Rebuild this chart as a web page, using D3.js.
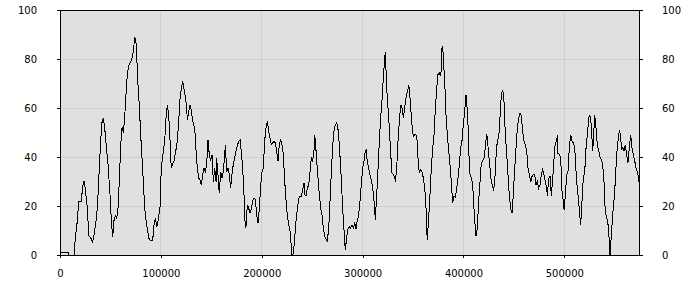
<!DOCTYPE html>
<html>
<head>
<meta charset="utf-8">
<title>Level trace</title>
<style>
  body { margin: 0; background: #fff; }
  svg { display: block; font-family: 'DejaVu Sans', sans-serif; }
  .grid line { stroke: #cfcfcf; stroke-width: 1; }
  .axis text { font-size: 10px; fill: #000; }
  .axis line { stroke: #000; }
  .trace { fill: none; stroke: #000; stroke-width: 1; }
</style>
</head>
<body>
<svg id="chart" width="700" height="300"></svg>

<script src="https://cdn.jsdelivr.net/npm/d3@7/dist/d3.min.js"></script>
<script>
  const xTicks = [0, 100000, 200000, 300000, 400000, 500000];
  const yTicks = [0, 20, 40, 60, 80, 100];
  const xMax = 575000;

  // [position (thousands), value]
  const trace = [
    [0, 1.1], [7.9, 1.1], [8.6, 0], [13.9, 0], [15.2, 7], [17.2, 14], [18.5, 22], [21.1, 22],
    [22.5, 28], [23.8, 30], [25.1, 27], [27.1, 19], [28.5, 8], [30.4, 7], [32.4, 5.3], [33.7, 8],
    [35.7, 14], [37, 19], [39, 35.5], [40.3, 46.5], [41.6, 54], [42.9, 56], [44.3, 52], [46.3, 42.5],
    [47.6, 37], [49.6, 24.6], [50.9, 14], [52.2, 7.3], [53.5, 14], [54.8, 16], [56.2, 15], [57.5, 19],
    [58.8, 30], [60.2, 45], [61.5, 52], [62.8, 50], [64.1, 56], [65.4, 65.4], [66.7, 73.6], [68.1, 77.4],
    [70.1, 79], [71.4, 80.4], [72.7, 83], [74.1, 89], [75.3, 87], [76, 81.8], [77.3, 69.5], [78.6, 61.3],
    [80, 49], [81.3, 39.6], [82.6, 30], [84, 19], [85.3, 14], [86.5, 11], [87.9, 7], [89.2, 6],
    [91.9, 6], [93.2, 12.4], [94.5, 15], [95.9, 11.5], [97.2, 14], [99.1, 19], [100.4, 35.5], [102.4, 42],
    [103.8, 46.5], [105.1, 56], [106.4, 61], [107.8, 57], [109.1, 46.5], [110.3, 35.5], [111.7, 37], [113, 38.4],
    [115, 43], [116.3, 46.5], [117.7, 54.6], [119, 64], [120.3, 68], [121.6, 71], [122.9, 68], [124.2, 64.8],
    [125.6, 60], [126.2, 55], [127.6, 58.6], [128.9, 61.3], [130.2, 59], [131.6, 54.6], [132.8, 53], [134.1, 49],
    [134.8, 43], [136.1, 35.5], [137.5, 31.4], [138.8, 30.5], [140.1, 28.7], [141.5, 32.8], [142.8, 35.5], [144, 34],
    [145.4, 37], [146.7, 47], [148, 41], [149.4, 38.4], [150.7, 41], [152, 30], [153.4, 35.5], [154.7, 30],
    [155.3, 39.6], [156.6, 32.8], [157.9, 25.3], [159.3, 34], [160.6, 31.4], [161.9, 34], [163.3, 41], [163.9, 45],
    [165.3, 34], [166.6, 35.5], [167.8, 32.8], [169.2, 27.3], [170.5, 32.8], [171.8, 37], [173.2, 39.6], [175.2, 43.7],
    [177.2, 46.5], [178.5, 47], [179.7, 42.5], [181.1, 35.5], [182.4, 24.6], [183.7, 11], [184.4, 11.6], [185.7, 20.5],
    [187.1, 19], [188.4, 17], [189.7, 19], [191, 22], [192.3, 23.3], [193.6, 22.8], [195, 16.4], [196.3, 13],
    [197.6, 19], [199, 28.7], [200.3, 34], [201.6, 35.5], [202.9, 46.5], [204.2, 51.8], [205.5, 54.6], [206.9, 50.6],
    [208.2, 47.8], [209.5, 45], [210.9, 45.7], [212.2, 46.5], [213.5, 45.7], [214.8, 42.5], [216.1, 38.4], [217.4, 45],
    [218.8, 47], [220.1, 45], [221.4, 41], [222.8, 30], [224.1, 22], [225.3, 16.4], [226.7, 12.4], [228, 9.8],
    [230, 0], [231.3, 0.7], [232.7, 7], [234, 14], [235.3, 19], [236.6, 22.8], [237.9, 24], [239.2, 24],
    [240.6, 26.7], [241.9, 29.5], [242.6, 24.6], [243.9, 24], [245.2, 27.3], [246.6, 28.7], [247.9, 34], [249.1, 39.6],
    [250.5, 38.4], [251.8, 42.5], [252.5, 49], [253.1, 47], [254.5, 38.4], [255.8, 31.4], [257.1, 24.6], [258.5, 19],
    [259.7, 16.4], [261, 11], [262.4, 7.6], [263.7, 6.4], [265, 5.7], [266.4, 11], [267.7, 22], [269, 34],
    [270.4, 45], [271.6, 50.6], [272.9, 53], [274.3, 54], [275.6, 51.3], [276.9, 45], [278.3, 35.5], [279.6, 24.6],
    [280.9, 14], [282.3, 5.7], [282.8, 2], [284.2, 7], [285.5, 10.7], [286.8, 11.6], [288.2, 11], [289.5, 12.4],
    [290.8, 11], [292.2, 13], [293.5, 10.7], [294.7, 14], [296.1, 16.4], [297.4, 22], [298.7, 28.7], [300.1, 35.5],
    [301.4, 38.4], [302.7, 42.5], [303.4, 43], [304.7, 37.7], [306, 35.5], [307.3, 32.8], [308.6, 30.5], [310, 27.3],
    [311.3, 22], [312.6, 14.4], [314, 24.6], [315.3, 35.5], [316.6, 46.5], [317.9, 56], [319.2, 63], [320.5, 72],
    [321.9, 80.4], [322.5, 83], [323.9, 68], [325.2, 60], [326.5, 51.8], [327.9, 41], [329.1, 33.5], [330.4, 32.8],
    [331.8, 32], [332.4, 30], [333.8, 35.5], [335.1, 46.5], [336.4, 54.6], [337.8, 61.3], [339.1, 60], [340.4, 56],
    [341.7, 60], [343, 64], [344.3, 66.8], [345.7, 68.8], [346.3, 68], [347.7, 60], [349, 53], [350.3, 48.4],
    [351.6, 49], [352.9, 49], [354.2, 46.5], [354.9, 39.6], [356.2, 33.5], [357.6, 34.8], [358.9, 34], [360.2, 31.4],
    [361.6, 27.3], [362.9, 19], [363.5, 11], [364.1, 6.3], [365.5, 15], [366.8, 24.6], [368.1, 35.5], [369.5, 43.7],
    [370.8, 49], [372.1, 60], [373.5, 68], [374.7, 73.6], [376, 74.3], [377.4, 73], [378, 76.3], [378.7, 84.5],
    [379.4, 85.3], [380, 80.4], [381.4, 71], [382.7, 57], [384, 49], [385.4, 42.5], [386.6, 37], [387.9, 30],
    [389.3, 21.2], [390.6, 24], [391.9, 23.6], [393.3, 27.3], [394.6, 31.4], [395.9, 37], [397.2, 43.7], [398.5, 46.5],
    [399.8, 53], [401.2, 58.6], [402.5, 65.2], [403.2, 62.6], [404.5, 53], [405.2, 42.5], [406.5, 32.8], [407.8, 31.4],
    [409.1, 28.7], [410.4, 19], [411.7, 11], [412.4, 7.6], [413.7, 11], [415.1, 22], [416.4, 30], [417.7, 37.7],
    [419.1, 38.4], [420.4, 39.6], [421.6, 43.7], [423, 49.5], [423.6, 47.8], [425, 41], [426.3, 35.5], [427.6, 29.5],
    [429, 28.7], [429.6, 26], [431, 30], [432.2, 39.6], [433.5, 46.5], [434.9, 47.8], [436.2, 56], [437.5, 65.4],
    [438.9, 67.5], [440.2, 62.6], [441.5, 49], [442.9, 41], [444.1, 32.8], [445.4, 24.6], [446.8, 19], [448.1, 17],
    [449.4, 24.6], [450.8, 35.5], [452.1, 43.7], [453.4, 51.8], [454.8, 56], [456, 58], [457.3, 57], [458.7, 50.6],
    [460, 46.5], [461.3, 45], [462.7, 42.5], [464, 35.5], [465.3, 32.8], [466.7, 30], [467.9, 32], [469.2, 32.8],
    [470.6, 32.8], [471.9, 28.7], [473.2, 30], [474.6, 27.3], [475.9, 28.7], [477.2, 32.8], [478.5, 34.8], [479.8, 32.8],
    [481.1, 30], [482.5, 27.3], [483.1, 24], [484.5, 31.4], [485.8, 32], [487.1, 24], [488.5, 31.4], [489.8, 39.6],
    [491, 45.7], [492.4, 46.5], [493, 49], [493.7, 41.5], [495, 41], [496.4, 39.6], [497.7, 26], [499, 22],
    [499.7, 18.5], [501, 24.6], [502.3, 32.8], [503.6, 34], [504.9, 43.7], [506.3, 49], [507.6, 46.5], [508.9, 45.7],
    [510.3, 43.7], [511.6, 34], [512.8, 27.3], [514.2, 22], [515.5, 15], [516.2, 12.4], [517.5, 22], [518.8, 31.4],
    [520.2, 34], [521.5, 43.7], [522.8, 49], [524.2, 56], [525.4, 57], [526.7, 53], [528.1, 42.5], [528.7, 46.5],
    [530.1, 57], [531.4, 51.8], [532.7, 45], [534.1, 42.5], [535.4, 40], [536.6, 38.8], [538, 37], [539.3, 30],
    [540.6, 17], [542, 15.6], [543.3, 12.4], [544.6, 5.7], [545.3, 0], [546.6, 8.2], [547.9, 16.4], [549.2, 22],
    [550.5, 30], [551.9, 41], [553.2, 46.5], [554.5, 50.8], [555.9, 49], [556.5, 43], [557.9, 43.7], [559.1, 42.5],
    [560.4, 45], [561.8, 41], [563.1, 37.7], [564.4, 43.7], [565.8, 49], [567.1, 43.7], [568.4, 41], [569.8, 38.4],
    [571, 35.5], [572.3, 34], [573.7, 31.4], [574.3, 28.7]
  ];

  const svg = d3.select("#chart");
  const margin = { top: 10, right: 60, bottom: 45, left: 60 };
  const width = 700 - margin.left - margin.right;
  const height = 300 - margin.top - margin.bottom;

  const x = d3.scaleLinear().domain([0, xMax]).range([0, width]);
  const y = d3.scaleLinear().domain([0, 100]).range([height, 0]);

  const g = svg.append("g").attr("transform", `translate(${margin.left},${margin.top})`);

  g.append("rect")
    .attr("width", width)
    .attr("height", height)
    .attr("fill", "#e0e0e0");

  // grid
  const grid = g.append("g").attr("class", "grid").attr("shape-rendering", "crispEdges");
  grid.selectAll(".gx")
    .data(xTicks.filter(t => t > 0))
    .join("line")
    .attr("x1", d => x(d)).attr("x2", d => x(d))
    .attr("y1", 0).attr("y2", height);
  grid.selectAll(".gy")
    .data(yTicks.filter(t => t > 0 && t < 100))
    .join("line")
    .attr("x1", 0).attr("x2", width)
    .attr("y1", d => y(d)).attr("y2", d => y(d));

  // series
  const line = d3.line()
    .x(d => x(d[0] * 1000))
    .y(d => y(d[1]));

  g.append("path")
    .datum(trace)
    .attr("class", "trace")
    .attr("shape-rendering", "crispEdges")
    .attr("d", line);

  // axes
  const fmt = d3.format("d");
  const axisBottom = g.append("g")
    .attr("class", "axis")
    .attr("transform", `translate(0,${height})`)
    .call(d3.axisBottom(x).tickValues(xTicks).tickFormat(fmt).tickSize(3).tickSizeOuter(0).tickPadding(12));

  const axisLeft = g.append("g")
    .attr("class", "axis")
    .call(d3.axisLeft(y).tickValues(yTicks).tickSize(3).tickSizeOuter(0).tickPadding(20));

  const axisRight = g.append("g")
    .attr("class", "axis")
    .attr("transform", `translate(${width},0)`)
    .call(d3.axisRight(y).tickValues(yTicks).tickSize(3).tickSizeOuter(0).tickPadding(19));

  [axisBottom, axisLeft, axisRight].forEach(a => {
    a.select(".domain").remove();
    a.attr("font-family", null).attr("font-size", null);
    a.selectAll("line").attr("shape-rendering", "crispEdges");
  });

  // frame
  g.append("rect")
    .attr("x", 0.5).attr("y", 0.5)
    .attr("width", width - 1).attr("height", height)
    .attr("fill", "none")
    .attr("stroke", "#000")
    .attr("shape-rendering", "crispEdges");
</script>
</body>
</html>
